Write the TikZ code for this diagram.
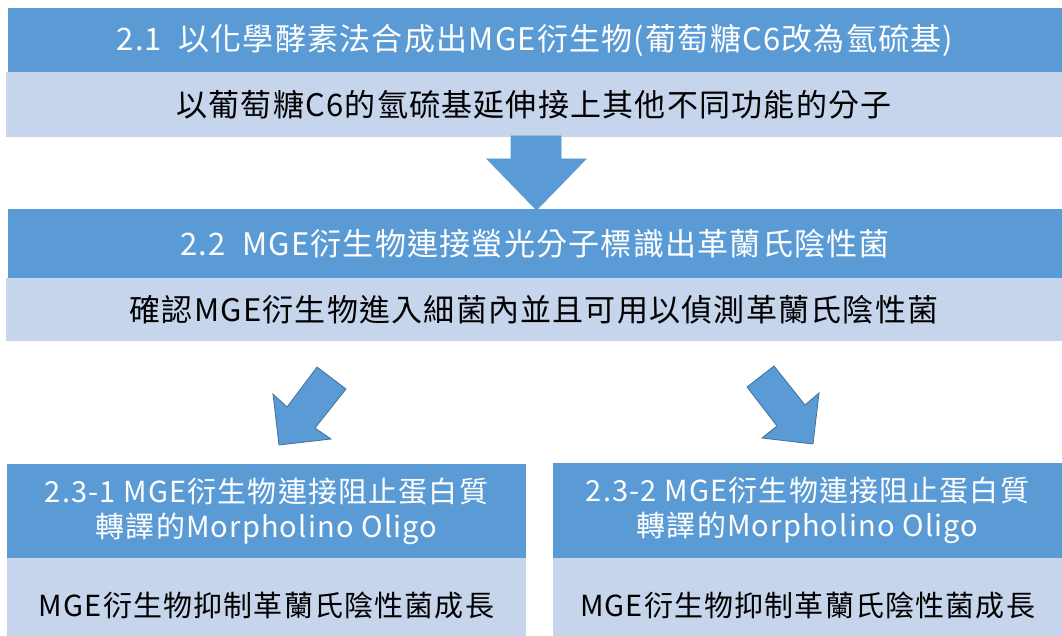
\documentclass[tikz,border=0pt]{standalone}
\usepackage{fontspec}
\setmainfont[LetterSpace=4]{Noto Sans CJK TC}
\definecolor{darkbox}{HTML}{5B9BD5}
\definecolor{lightbox}{HTML}{C6D5EB}
\definecolor{arrowline}{HTML}{41719C}
\begin{document}
\begin{tikzpicture}[x=1pt,y=-1pt,
  boxbase/.style={inner sep=0pt,outer sep=0pt,anchor=north west,align=center},
  darkbox/.style={boxbase,fill=darkbox,text=white},
  lightbox/.style={boxbase,fill=lightbox,text=black},
  blockarrow/.style={fill=darkbox,draw=arrowline,line width=0.8pt,line join=miter}]
\clip (0,0) rectangle (1062,636);
% row 1
\node[darkbox,minimum width=1054pt,minimum height=64pt,font=\fontsize{31}{36}\selectfont] (t1) at (8,8)
  {2.1\ \ 以化學酵素法合成出MGE衍生物(葡萄糖C6改為氫硫基)};
\node[lightbox,minimum width=1056pt,minimum height=65pt,font=\fontsize{31}{36}\selectfont] (s1) at (6,72)
  {以葡萄糖C6的氫硫基延伸接上其他不同功能的分子};
% down arrow
\draw[blockarrow,draw=darkbox] (511,136) -- (561,136) -- (561,159) -- (586,159) -- (536.5,210) -- (487,159) -- (511,159) -- cycle;
% row 2
\node[darkbox,minimum width=1054pt,minimum height=69pt,font=\fontsize{31}{36}\selectfont] (t2) at (8,209)
  {2.2\ \ MGE衍生物連接螢光分子標識出革蘭氏陰性菌};
\node[lightbox,minimum width=1056pt,minimum height=63pt,font=\fontsize{31}{36}\selectfont] (s2) at (6,278)
  {確認MGE衍生物進入細菌內並且可用以偵測革蘭氏陰性菌};
% diagonal arrows
\draw[blockarrow] (317,367) -- (346,389) -- (315,428) -- (331,439) -- (279,445) -- (273,394) -- (287,407) -- cycle;
\draw[blockarrow] (774,366) -- (747,387) -- (777,426) -- (762,438) -- (813,444) -- (819,393) -- (805,405) -- cycle;
% row 3
\node[darkbox,minimum width=519pt,minimum height=94pt,font=\fontsize{29}{35}\selectfont] (t3a) at (7,464)
  {2.3-1 MGE衍生物連接阻止蛋白質\\轉譯的Morpholino Oligo};
\node[lightbox,minimum width=519pt,minimum height=94pt,font=\fontsize{29}{35}\selectfont] (s3a) at (7,558)
  {MGE衍生物抑制革蘭氏陰性菌成長};
\node[darkbox,minimum width=509pt,minimum height=95pt,font=\fontsize{29}{35}\selectfont] (t3b) at (553,463)
  {2.3-2 MGE衍生物連接阻止蛋白質\\轉譯的Morpholino Oligo};
\node[lightbox,minimum width=509pt,minimum height=94pt,font=\fontsize{29}{35}\selectfont] (s3b) at (553,558)
  {MGE衍生物抑制革蘭氏陰性菌成長};
\end{tikzpicture}
\end{document}
